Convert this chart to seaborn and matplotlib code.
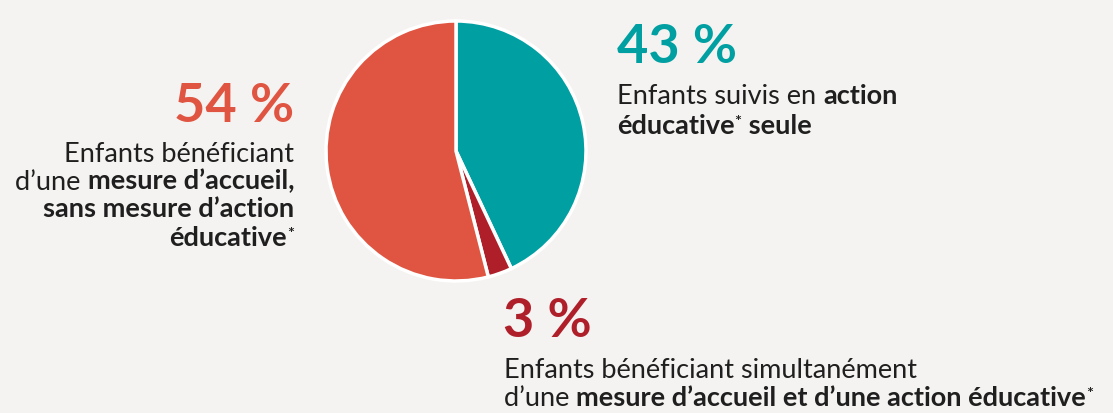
import matplotlib
matplotlib.use("Agg")
import matplotlib.pyplot as plt
import seaborn as sns

# ---- data ----
categories = ["Action éducative seule",
              "Accueil et action éducative",
              "Accueil sans action éducative"]
values = [43, 3, 54]
pct_labels = ["43 %", "3 %", "54 %"]
colors = ["#00A0A2", "#AE1F2A", "#E05541"]

BG = "#F5F3F1"
TEXT = "#1F1F1F"

sns.set_theme(style="white")
plt.rcParams["font.family"] = ["Lato", "DejaVu Sans"]

W, H = 1113, 414
fig = plt.figure(figsize=(W / 100, H / 100), dpi=100, facecolor=BG)

# ---- pie ----
cx, cy, r = 456, 152, 130
ax = fig.add_axes([(cx - r) / W, (H - cy - r) / H, 2 * r / W, 2 * r / H])
ax.pie(values, colors=colors, startangle=90, counterclock=False,
       wedgeprops=dict(edgecolor="white", linewidth=2.5), radius=1)
ax.set_xlim(-1, 1)
ax.set_ylim(-1, 1)
ax.set_aspect("equal")
ax.axis("off")

renderer = fig.canvas.get_renderer()


def px2pt(px):
    return px * 72 / 100


def ink_width(s, size, weight):
    t = fig.text(0, 0, s, fontsize=size, fontweight=weight)
    w = t.get_window_extent(renderer).width
    t.remove()
    return w


def advance(s, size, weight):
    return ink_width(s + "|", size, weight) - ink_width("|", size, weight)


def seg_size(seg, size):
    return size * 0.6 if seg[0] == "*" else size


def line_width(segs, size):
    total = 0
    for i, seg in enumerate(segs):
        sz = seg_size(seg, size)
        if i == len(segs) - 1:
            total += ink_width(seg[0], sz, seg[1])
        else:
            total += advance(seg[0], sz, seg[1])
    return total


def draw_line(segs, x, y, size, align="left"):
    if align == "right":
        x = x - line_width(segs, size)
    for seg in segs:
        text, weight = seg
        sz = seg_size(seg, size)
        dy = size * 100 / 72 * 0.28 if text == "*" else 0
        fig.text(x / W, (H - y + dy) / H, text, fontsize=sz,
                 fontweight=weight, color=TEXT, va="baseline", ha="left")
        x += advance(text, sz, weight)


# body font size chosen so the widest line stays inside the figure
ref = "Enfants bénéficiant simultanément"
body = 16 * 416 / ink_width(ref, 16, "normal")
big = px2pt(54)

# ---- 43 % (teal, right) ----
fig.text(617 / W, (H - 63) / H, pct_labels[0], fontsize=big,
         fontweight="bold", color=colors[0], va="baseline", ha="left")
draw_line([("Enfants suivis en ", "normal"), ("action", "bold")], 617, 104.5, body)
draw_line([("éducative", "bold"), ("*", "bold"), (" seule", "bold")], 617, 134, body)

# ---- 54 % (orange, left) ----
fig.text(294 / W, (H - 122) / H, pct_labels[2], fontsize=big,
         fontweight="bold", color=colors[2], va="baseline", ha="right")
draw_line([("Enfants bénéficiant", "normal")], 294, 162, body, "right")
draw_line([("d\u2019une ", "normal"), ("mesure d\u2019accueil,", "bold")], 294, 189.5, body, "right")
draw_line([("sans mesure d\u2019action", "bold")], 294, 217.5, body, "right")
draw_line([("éducative", "bold"), ("*", "bold")], 294, 246, body, "right")

# ---- 3 % (dark red, bottom) ----
fig.text(503 / W, (H - 337) / H, pct_labels[1], fontsize=big,
         fontweight="bold", color=colors[1], va="baseline", ha="left")
draw_line([("Enfants bénéficiant simultanément", "normal")], 504, 378, body)
draw_line([("d\u2019une ", "normal"),
           ("mesure d\u2019accueil et d\u2019une action éducative", "bold"),
           ("*", "bold")], 504, 406, body)

fig.savefig("out.png", dpi=100, facecolor=BG)
